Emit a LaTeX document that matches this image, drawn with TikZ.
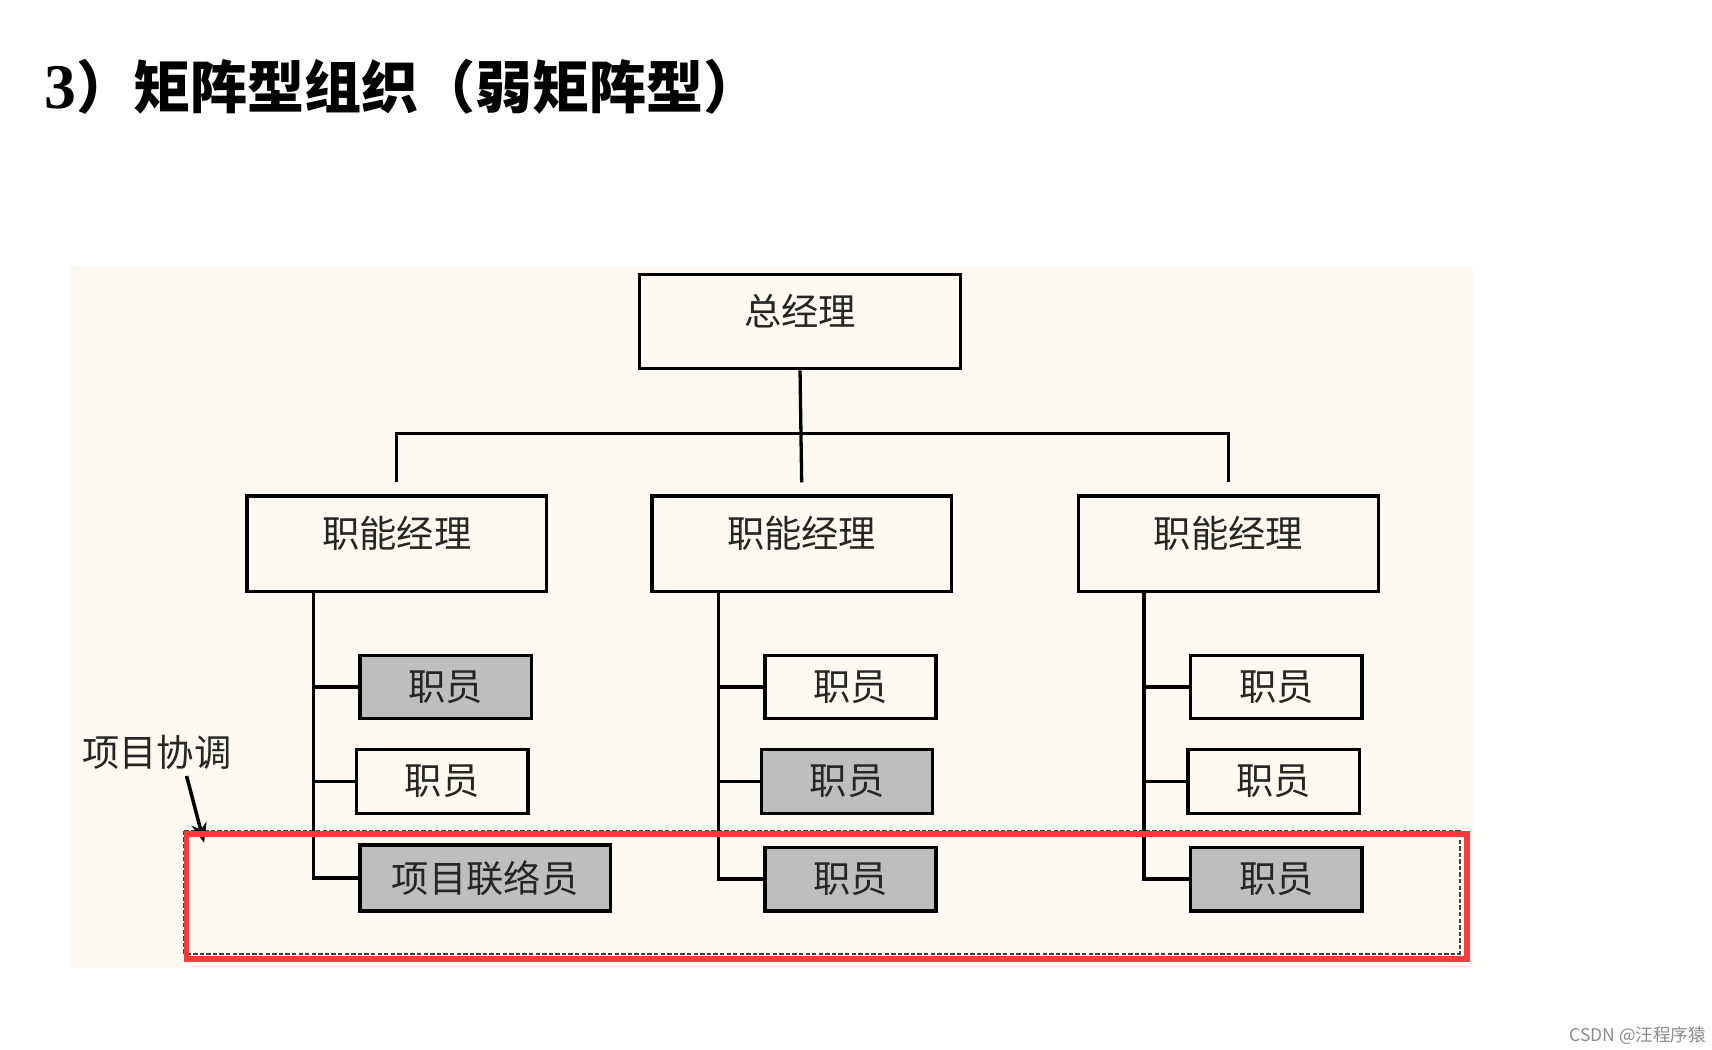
\documentclass[tikz,border=0pt]{standalone}
\usepackage{fontspec}
\setmainfont{Liberation Serif}
\newfontfamily\cjk{Noto Sans CJK SC}
\usepackage{tikz}
\usetikzlibrary{arrows.meta}
\definecolor{paper}{RGB}{253,250,241}
\definecolor{staffgrey}{RGB}{190,190,190}
\definecolor{markred}{RGB}{244,60,60}
\tikzset{
BOX/.style={draw=black,line width=1.5pt,fill=paper,inner sep=0pt,text=black!85,
	font=\cjk\fontsize{17pt}{17pt}\selectfont},
MGR/.style={BOX,minimum width=136.5pt,minimum height=43.5pt,text depth=11pt},
STAFF/.style={BOX,minimum width=78pt,minimum height=29pt},
GREY/.style={fill=staffgrey},
LINE/.style={draw=black,line width=1.5pt},
}

\begin{document}
\begin{tikzpicture}
[x=0.5pt,y=-0.5pt]
	\useasboundingbox[fill=white] (0,0) rectangle (1560,956);
	%Title
	\node[anchor=base west,inner sep=0pt] (title) at (40,99)
		{\fontsize{29pt}{29pt}\selectfont\bfseries 3\cjk\fontsize{26pt}{26pt}\selectfont）矩阵型组织（弱矩阵型）};
	%Background and project frame
	\fill[paper] (64,242) rectangle (1342,882);
	\draw[black!75,line width=0.9pt,dash pattern=on 2pt off 1pt] (168,757) rectangle (1330,869);
	%Managers
	\node[BOX,minimum width=146pt,minimum height=43pt,text depth=11pt] (gm) at (729,293) {总经理};
	\node[MGR] (fm1) at (361.5,495.5) {职能经理};
	\node[MGR] (fm2) at (730.5,495.5) {职能经理};
	\node[MGR] (fm3) at (1119.5,495.5) {职能经理};
	%Staff
	\node[STAFF,GREY] (s11) at (406,626) {职员};
	\node[STAFF] (s12) at (403,712) {职员};
	\node[STAFF,GREY,minimum width=114pt,minimum height=30pt] (s13) at (442,800) {项目联络员};
	\node[STAFF] (s21) at (775,626) {职员};
	\node[STAFF,GREY] (s22) at (772,712) {职员};
	\node[STAFF,GREY] (s23) at (775,801) {职员};
	\node[STAFF] (s31) at (1163,626) {职员};
	\node[STAFF] (s32) at (1160.5,712) {职员};
	\node[STAFF,GREY] (s33) at (1163,801) {职员};
	%Tree lines
	\coordinate (bus) at (731,395);
	\draw[LINE] (gm.south) -- ([yshift=5.5pt]fm2.north);
	\draw[LINE] ([yshift=5.5pt]fm1.north) |- (bus) -| ([yshift=5.5pt]fm3.north);
	\coordinate (c1) at ([xshift=31pt]fm1.south west);
	\coordinate (c2) at ([xshift=31pt]fm2.south west);
	\coordinate (c3) at ([xshift=30.5pt]fm3.south west);
	\draw[LINE] (c1) |- (s13.west);
	\draw[LINE] (s11.west) -- (s11.west -| c1);
	\draw[LINE] (s12.west) -- (s12.west -| c1);
	\draw[LINE] (c2) |- (s23.west);
	\draw[LINE] (s21.west) -- (s21.west -| c2);
	\draw[LINE] (s22.west) -- (s22.west -| c2);
	\draw[LINE] (c3) |- (s33.west);
	\draw[LINE] (s31.west) -- (s31.west -| c3);
	\draw[LINE] (s32.west) -- (s32.west -| c3);
	%Project coordination
	\node[inner sep=0pt,text=black!85,font=\cjk\fontsize{17pt}{17pt}\selectfont] (coord) at (143,686) {项目协调};
	\coordinate (tip) at (186,768);
	\draw[line width=1.6pt,-{Stealth[length=9pt,width=7pt]}] ([xshift=13.5pt,yshift=-2.5pt]coord.south) -- (tip);
	\draw[markred,line width=2.6pt] (170,760) rectangle (1337,874);
	%Watermark
	\node[anchor=base east,inner sep=0pt,text=black!45,font=\cjk\fontsize{8pt}{8pt}\selectfont] (mark) at (1555,949) {CSDN @汪程序猿};
\end{tikzpicture}
\end{document}
